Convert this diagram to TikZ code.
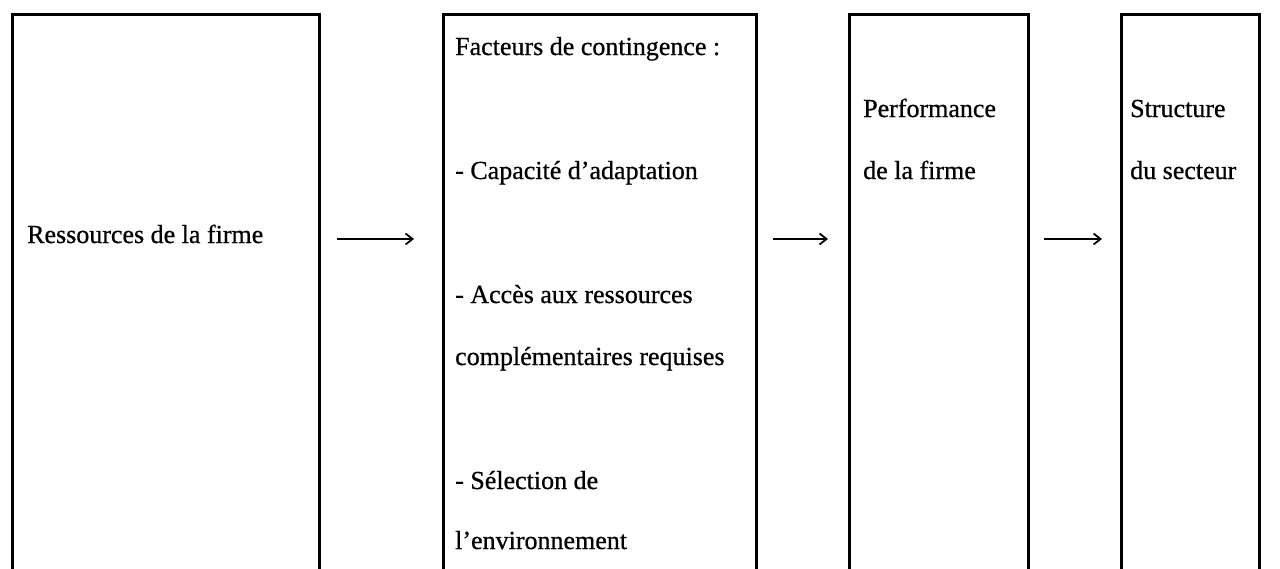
\documentclass[tikz,border=0pt]{standalone}
\usepackage{fontspec}
\setmainfont{Liberation Serif}
\newfontfamily\scanfont{Liberation Serif}[FakeBold=0.7]
\usetikzlibrary{arrows.meta}
\begin{document}
\begin{tikzpicture}[x=1pt,y=-1pt,
  box/.style={draw=black,line width=3pt,rectangle,inner sep=0pt,minimum height=620pt,anchor=north west},
  txt/.style={anchor=base west,inner sep=0pt,font=\scanfont\fontsize{26}{26}\selectfont},
  arr/.style={draw=black,line width=2pt,-{Straight Barb[length=7pt,width=11pt,line width=1.8pt]}}]
\useasboundingbox (0,0) rectangle (1280,568);
\clip (0,0) rectangle (1280,568);
\fill[white] (0,0) rectangle (1280,568);
\node[box,minimum width=307pt] (b1) at (11,13) {};
\node[box,minimum width=313pt] (b2) at (442,13) {};
\node[box,minimum width=179pt] (b3) at (848,13) {};
\node[box,minimum width=138pt] (b4) at (1120,13) {};
\coordinate (ay) at (0,239);
\draw[arr,shorten <=16pt,shorten >=28pt] (b1.east |- ay) -- (b2.west |- ay);
\draw[arr,shorten <=15pt,shorten >=20pt] (b2.east |- ay) -- (b3.west |- ay);
\draw[arr,shorten <=14pt,shorten >=18pt] (b3.east |- ay) -- (b4.west |- ay);
\node[txt] (t1) at (27,243) {Ressources de la firme};
\node[txt] (t2a) at (455,55) {Facteurs de contingence :};
\node[txt] (t2b) at (455,179) {- Capacité d’adaptation};
\node[txt] (t2c) at (455,303) {- Accès aux ressources};
\node[txt] (t2d) at (455,365) {complémentaires requises};
\node[txt] (t2e) at (455,489) {- Sélection de};
\node[txt] (t2f) at (455,549) {l’environnement};
\node[txt] (t3a) at (863,117) {Performance};
\node[txt] (t3b) at (863,179) {de la firme};
\node[txt] (t4a) at (1130,117) {Structure};
\node[txt] (t4b) at (1130,179) {du secteur};
\end{tikzpicture}
\end{document}
